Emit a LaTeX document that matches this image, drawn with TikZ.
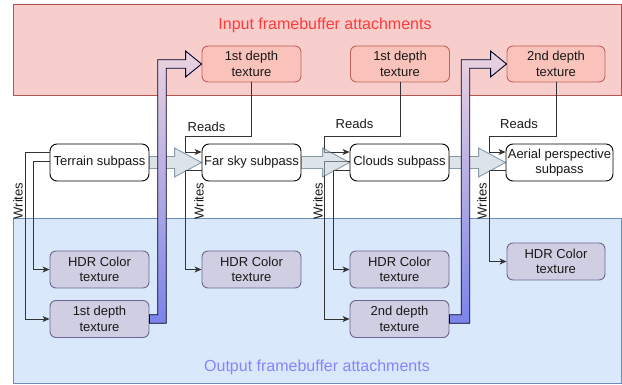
\documentclass[tikz,border=0pt]{standalone}
\usepackage{fontspec}
\setmainfont{Liberation Sans}
\usetikzlibrary{arrows.meta,calc}

\definecolor{inbg}{HTML}{F8CECC}
\definecolor{inedge}{HTML}{B85450}
\definecolor{intitle}{HTML}{FF3B3B}
\definecolor{outbg}{HTML}{DAE8FC}
\definecolor{outedge}{HTML}{6C8EBF}
\definecolor{outtitle}{HTML}{8585FF}
\definecolor{infill}{HTML}{F9C2BA}
\definecolor{inline}{HTML}{C0605A}
\definecolor{texfill}{HTML}{D0CEE2}
\definecolor{texline}{HTML}{6B6694}
\definecolor{flowfill}{HTML}{BAC8D3}
\definecolor{flowline}{HTML}{23445D}
\definecolor{gradtop}{HTML}{EAD2DF}
\definecolor{gradbot}{HTML}{7C84EA}
\definecolor{wire}{HTML}{333333}

\tikzset{
  base/.style={font=\fontsize{13}{15.6}\selectfont, align=center, inner sep=1pt, line width=0.9pt, text=black!90},
  subpass/.style={base, draw=black, fill=white, rounded corners=7pt, minimum height=37pt},
  intex/.style={base, draw=inline, fill=infill, rounded corners=6pt, minimum width=99pt, minimum height=36pt},
  outtex/.style={base, draw=texline, fill=texfill, rounded corners=6pt, minimum width=99pt, minimum height=37pt},
  conn/.style={draw=wire, line width=0.8pt, -{Stealth[length=7pt,width=6pt,inset=2pt]}},
  lbl/.style={font=\fontsize{13}{15.6}\selectfont, inner sep=0pt, text=black!90},
  flow/.style={fill=flowfill, draw=flowline, opacity=0.5, line width=0.9pt},
  carry/.style={top color=gradtop, bottom color=gradbot, draw=black!85!blue, line width=0.9pt},
}

% wide translucent arrow from one subpass to the next
\newcommand\flowarrow[2]{%
  \path[flow] let \p1=(#1.east), \p2=(#2.west) in
    (\x1,\y1+6pt) -- (\x2-27pt,\y1+6pt) -- (\x2-27pt,\y1+14.5pt) -- (\x2,\y1)
    -- (\x2-27pt,\y1-14.5pt) -- (\x2-27pt,\y1-6pt) -- (\x1,\y1-6pt) -- cycle;}

% bent shaded arrow carrying an output texture to a later input
% #1 source node, #2 target node, #3 offset of the vertical shaft
\newcommand\carryarrow[3]{%
  \shade[carry] let \p1=(#1.east), \p2=(#2.west), \n1={\x1+#3}, \n2={4.25pt} in
    (\x1,\y1-\n2) -- (\n1+\n2,\y1-\n2) -- (\n1+\n2,\y2-\n2) -- (\x2-16pt,\y2-\n2)
    -- (\x2-16pt,\y2-13pt) -- (\x2,\y2) -- (\x2-16pt,\y2+13pt) -- (\x2-16pt,\y2+\n2)
    -- (\n1-\n2,\y2+\n2) -- (\n1-\n2,\y1+\n2) -- (\x1,\y1+\n2) -- cycle;}

\begin{document}
\begin{tikzpicture}[x=1pt,y=-1pt]
\useasboundingbox (0,0) rectangle (622,385);

% attachment areas
\draw[fill=inbg, draw=inedge, line width=0.9pt] (13,4.5) rectangle (621.5,95);
\draw[fill=outbg, draw=outedge, line width=0.9pt] (13,218) rectangle (621.5,383);
\node[font=\fontsize{16}{19}\selectfont, text=intitle] (intitle) at (325,25.5) {Input framebuffer attachments};
\node[font=\fontsize{16}{19}\selectfont, text=outtitle] (outtitle) at (317,367) {Output framebuffer attachments};

% input textures
\node[intex] (in1) at (251.5,64) {1st depth\\texture};
\node[intex] (in2) at (400,64) {1st depth\\texture};
\node[intex, minimum width=98pt] (in3) at (556,64) {2nd depth\\texture};

% subpasses
\node[subpass, minimum width=99pt] (terrain) at (99.5,162.5) {Terrain subpass};
\node[subpass, minimum width=99pt] (farsky) at (251.5,162.5) {Far sky subpass};
\node[subpass, minimum width=99pt] (clouds) at (399.5,162.5) {Clouds subpass};
\node[subpass, minimum width=107pt] (aerial) at (559.5,162.5) {Aerial perspective\\subpass};

% output textures
\node[outtex] (hdr1) at (99.5,269.5) {HDR Color\\texture};
\node[outtex] (dep1) at (99.5,319) {1st depth\\texture};
\node[outtex] (hdr2) at (251.5,269.5) {HDR Color\\texture};
\node[outtex] (hdr3) at (399.5,269.5) {HDR Color\\texture};
\node[outtex] (dep2) at (399.5,319) {2nd depth\\texture};
\node[outtex, minimum width=98pt] (hdr4) at (556,261.5) {HDR Color\\texture};

% writes
\draw[conn] ($(terrain.west)+(0,-10.5)$) -- ++(-24,0) |- (dep1.west);
\draw[conn] ($(terrain.west)+(0,-1.5)$) -- ++(-16,0) |- (hdr1.west);
\draw[conn] ($(farsky.west)+(0,7.5)$) -- ++(-16,0) |- (hdr2.west);
\draw[conn] ($(clouds.west)+(0,-1.5)$) -- ++(-25,0) |- (dep2.west);
\draw[conn] ($(clouds.west)+(0,7.5)$) -- ++(-16,0) |- (hdr3.west);
\draw[conn] ($(aerial.west)+(0,7.5)$) -- ++(-16,0) |- (hdr4.west);

% reads
\draw[conn] (in1.south) -- ++(0,54) -| ($(farsky.west)+(-16,-10.5)$) -- ($(farsky.west)+(0,-10.5)$);
\draw[conn] (in2.south) -- ++(0,54) -| ($(clouds.west)+(-25,-10.5)$) -- ($(clouds.west)+(0,-10.5)$);
\draw[conn] (in3.south) -- ++(0,54) -| ($(aerial.west)+(-16,-10.5)$) -- ($(aerial.west)+(0,-10.5)$);

% labels
\node[lbl] (r1) at (206.5,127) {Reads};
\node[lbl] (r2) at (354.5,124) {Reads};
\node[lbl] (r3) at (519,124) {Reads};
\node[lbl, rotate=90] (w1) at (18,201) {Writes};
\node[lbl, rotate=90] (w2) at (199,201) {Writes};
\node[lbl, rotate=90] (w3) at (318,201) {Writes};
\node[lbl, rotate=90] (w4) at (482,201) {Writes};

% subpass order
\flowarrow{terrain}{farsky}
\flowarrow{farsky}{clouds}
\flowarrow{clouds}{aerial}

% depth textures handed on
\carryarrow{dep1}{in1}{12.5pt}
\carryarrow{dep2}{in3}{16pt}
\end{tikzpicture}
\end{document}
